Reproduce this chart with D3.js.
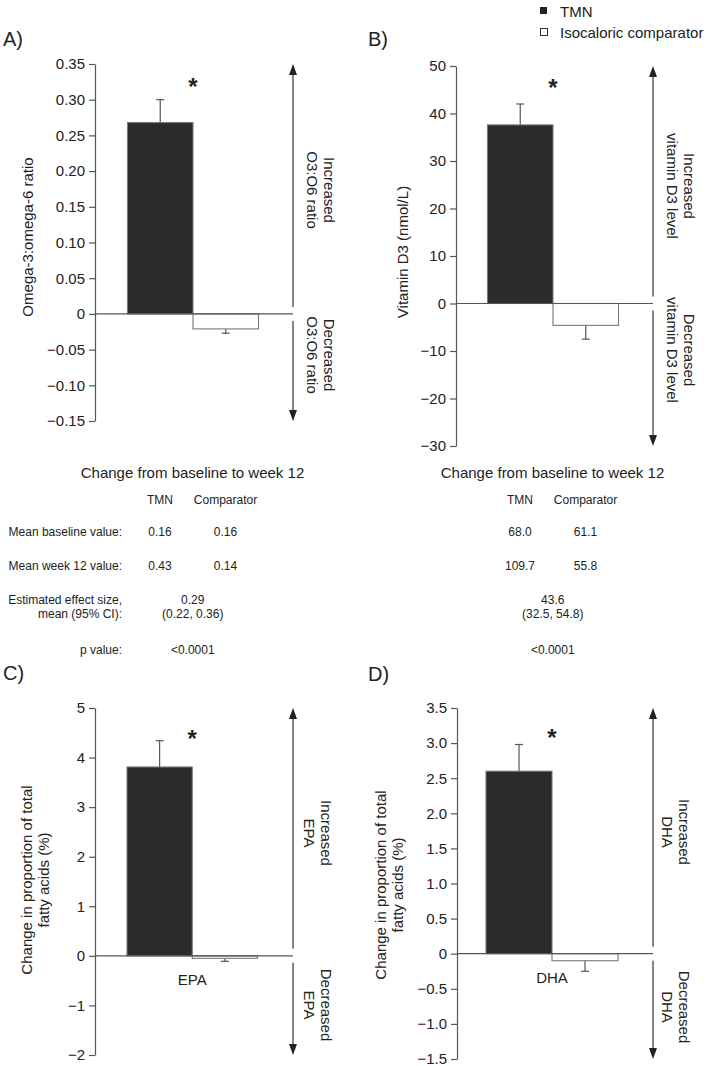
<!DOCTYPE html>
<html lang="en">
<head>
<meta charset="UTF-8">
<title>TMN vs isocaloric comparator</title>
<script src="https://d3js.org/d3.v7.min.js"></script>
<style>
body{margin:0;background:#fff;}
svg text{font-family:"Liberation Sans",Arial,Helvetica,sans-serif;fill:#222;}
</style>
</head>
<body>
<script>
// ---- data ----
var groups = ['TMN', 'Comparator'];
var panelNames = ['A)', 'B)', 'C)', 'D)'];

var tmnMean   = [0.268, 37.6, 3.81, 2.60];
var tmnUpper  = [0.300, 42.0, 4.34, 2.98];
var compMean  = [-0.021, -4.6, -0.05, -0.10];
var compLower = [-0.027, -7.5, -0.11, -0.25];
var starAt    = [0.325, 46.4, 4.48, 3.14];

var yDomains = [[-0.15, 0.35], [-30, 50], [-2, 5], [-1.5, 3.5]];

var ticksA  = [0.35, 0.30, 0.25, 0.20, 0.15, 0.10, 0.05, 0, -0.05, -0.10, -0.15];
var labelsA = ['0.35', '0.30', '0.25', '0.20', '0.15', '0.10', '0.05', '0', '\u22120.05', '\u22120.10', '\u22120.15'];
var ticksB  = [50, 40, 30, 20, 10, 0, -10, -20, -30];
var labelsB = ['50', '40', '30', '20', '10', '0', '\u221210', '\u221220', '\u221230'];
var ticksC  = [5, 4, 3, 2, 1, 0, -1, -2];
var labelsC = ['5', '4', '3', '2', '1', '0', '\u22121', '\u22122'];
var ticksD  = [3.5, 3.0, 2.5, 2.0, 1.5, 1.0, 0.5, 0, -0.5, -1.0, -1.5];
var labelsD = ['3.5', '3.0', '2.5', '2.0', '1.5', '1.0', '0.5', '0', '\u22120.5', '\u22121.0', '\u22121.5'];

var yTitles = [['Omega-3:omega-6 ratio'], ['Vitamin D3 (nmol/L)'],
    ['Change in proportion of total', 'fatty acids (%)'], ['Change in proportion of total', 'fatty acids (%)']];
var upText   = [['Increased', 'O3:O6 ratio'], ['Increased', 'vitamin D3 level'], ['Increased', 'EPA'], ['Increased', 'DHA']];
var downText = [['Decreased', 'O3:O6 ratio'], ['Decreased', 'vitamin D3 level'], ['Decreased', 'EPA'], ['Decreased', 'DHA']];
var catText  = ['', '', 'EPA', 'DHA'];

var legendText = ['TMN', 'Isocaloric comparator'];

var tableTitle = 'Change from baseline to week 12';
var tableHead  = ['TMN', 'Comparator'];
var rowLabels  = ['Mean baseline value:', 'Mean week 12 value:', 'Estimated effect size,', 'mean (95% CI):', 'p value:'];
var baselineA = ['0.16', '0.16'], week12A = ['0.43', '0.14'];
var baselineB = ['68.0', '61.1'], week12B = ['109.7', '55.8'];
var effectA = ['0.29', '(0.22, 0.36)', '<0.0001'];
var effectB = ['43.6', '(32.5, 54.8)', '<0.0001'];

// ---- layout ----
var W = 709, H = 1066;
var layout = [
    {ax: 95,  top: 64,  bot: 421,  band: [127.5, 258.5], arrow: 293, tx: 27,  ty: 237, up: [321, 190], down: [321, 355], nx: 3,   ny: 46},
    {ax: 456, top: 66,  bot: 446,  band: [487.5, 618.5], arrow: 653, tx: 402, ty: 252, up: [681, 186], down: [681, 350], nx: 368, ny: 46},
    {ax: 95,  top: 708, bot: 1055, band: [127, 257.5],   arrow: 293, tx: 35,  ty: 880, up: [318, 833], down: [318, 1005], nx: 3,   ny: 680},
    {ax: 457, top: 708, bot: 1059, band: [486, 618],     arrow: 653, tx: 389, ty: 885, up: [676, 832], down: [676, 1007], nx: 368, ny: 681}
];
var allTicks = [ticksA, ticksB, ticksC, ticksD];
var allLabels = [labelsA, labelsB, labelsC, labelsD];

var gray = '#555';

var svg = d3.select('body').append('svg')
    .attr('width', W).attr('height', H);
svg.append('rect').attr('width', W).attr('height', H).attr('fill', '#fff');

function rotText(g, cx, cy, angle, lines, size) {
    // lines stacked perpendicular to reading direction, centred on (cx,cy)
    var gap = 17;
    var t = g.append('g').attr('transform', 'translate(' + cx + ',' + cy + ') rotate(' + angle + ')');
    lines.forEach(function (s, i) {
        t.append('text')
            .attr('x', 0)
            .attr('y', (i - (lines.length - 1) / 2) * gap)
            .attr('text-anchor', 'middle')
            .attr('dominant-baseline', 'central')
            .attr('font-size', size)
            .text(s);
    });
}

function arrowHead(g, x, y, dir) {
    // dir -1 = up, 1 = down; (x,y) is the tip
    g.append('path')
        .attr('d', 'M' + x + ',' + y + 'L' + (x - 4) + ',' + (y - dir * 11) + 'L' + (x + 4) + ',' + (y - dir * 11) + 'Z')
        .attr('fill', '#222');
}

layout.forEach(function (p, k) {
    var g = svg.append('g');
    var y = d3.scaleLinear().domain(yDomains[k]).range([p.bot, p.top]);
    var x = d3.scaleBand().domain(groups).range(p.band).padding(0);
    var y0 = y(0);

    // panel letter
    g.append('text').attr('x', p.nx).attr('y', p.ny)
        .attr('font-size', 20).text(panelNames[k]);

    // y axis
    var axis = d3.axisLeft(y)
        .tickValues(allTicks[k])
        .tickFormat(function (d, i) { return allLabels[k][i]; })
        .tickSize(6).tickSizeOuter(0).tickPadding(4);
    var ag = g.append('g').attr('transform', 'translate(' + p.ax + ',0)').call(axis);
    ag.select('.domain').attr('stroke', gray).attr('stroke-width', 1.2);
    ag.selectAll('.tick line').attr('stroke', gray).attr('stroke-width', 1.2);
    ag.selectAll('.tick text').attr('font-size', 15).attr('fill', '#222')
        .attr('font-family', '"Liberation Sans",Arial,sans-serif');

    // y title
    rotText(g, p.tx, p.ty, -90, yTitles[k], 15);

    // bars
    var bars = [
        {grp: 'TMN', v: tmnMean[k], e: tmnUpper[k], fill: '#2b2b2b', stroke: '#777'},
        {grp: 'Comparator', v: compMean[k], e: compLower[k], fill: '#fff', stroke: '#777'}
    ];
    // error bars first so the bar covers the stem
    bars.forEach(function (b) {
        var cx = x(b.grp) + x.bandwidth() / 2;
        g.append('line').attr('x1', cx).attr('x2', cx)
            .attr('y1', y(b.v)).attr('y2', y(b.e))
            .attr('stroke', gray).attr('stroke-width', 1.2);
        g.append('line').attr('x1', cx - 4).attr('x2', cx + 4)
            .attr('y1', y(b.e)).attr('y2', y(b.e))
            .attr('stroke', gray).attr('stroke-width', 1.2);
    });
    g.selectAll('.bar').data(bars).enter().append('rect')
        .attr('x', function (d) { return x(d.grp); })
        .attr('width', x.bandwidth())
        .attr('y', function (d) { return Math.min(y(d.v), y0); })
        .attr('height', function (d) { return Math.abs(y(d.v) - y0); })
        .attr('fill', function (d) { return d.fill; })
        .attr('stroke', function (d) { return d.stroke; })
        .attr('stroke-width', 1.1);

    // zero line
    g.append('line').attr('x1', p.ax).attr('x2', p.arrow)
        .attr('y1', y0).attr('y2', y0)
        .attr('stroke', gray).attr('stroke-width', 1.2);

    // asterisk
    g.append('text')
        .attr('x', x('TMN') + x.bandwidth())
        .attr('y', y(starAt[k]) + 13)
        .attr('text-anchor', 'middle')
        .attr('font-size', 24).attr('font-weight', 'bold')
        .text('*');

    // category label
    if (catText[k]) {
        g.append('text').attr('x', x('Comparator'))
            .attr('y', y0 + 24)
            .attr('text-anchor', 'middle').attr('dominant-baseline', 'central')
            .attr('font-size', 15).text(catText[k]);
    }

    // direction arrows
    g.append('line').attr('x1', p.arrow).attr('x2', p.arrow)
        .attr('y1', y0 - 7).attr('y2', p.top + 8)
        .attr('stroke', '#333').attr('stroke-width', 1.2);
    arrowHead(g, p.arrow, p.top, -1);
    g.append('line').attr('x1', p.arrow).attr('x2', p.arrow)
        .attr('y1', y0 + 7).attr('y2', p.bot - 8)
        .attr('stroke', '#333').attr('stroke-width', 1.2);
    arrowHead(g, p.arrow, p.bot, 1);

    rotText(g, p.up[0], p.up[1], 90, upText[k], 15);
    rotText(g, p.down[0], p.down[1], 90, downText[k], 15);
});

// legend
var lg = svg.append('g');
lg.append('rect').attr('x', 540).attr('y', 7).attr('width', 7).attr('height', 7).attr('fill', '#222');
lg.append('rect').attr('x', 540.5).attr('y', 28.5).attr('width', 7).attr('height', 7)
    .attr('fill', '#fff').attr('stroke', '#333').attr('stroke-width', 1);
lg.selectAll('.lt').data(legendText).enter().append('text')
    .attr('x', 560)
    .attr('y', function (d, i) { return 11 + i * 21; })
    .attr('dominant-baseline', 'central')
    .attr('font-size', 15)
    .text(function (d) { return d; });

// summary tables
function table(cx, cols, showLabels, base, wk, eff) {
    var t = svg.append('g');
    t.append('text').attr('x', cx).attr('y', 472)
        .attr('text-anchor', 'middle').attr('dominant-baseline', 'central')
        .attr('font-size', 15).text(tableTitle);
    var rowsY = [531.5, 565.5, 600, 614, 650];
    tableHead.forEach(function (h, i) {
        t.append('text').attr('x', cols[i]).attr('y', 500)
            .attr('text-anchor', 'middle').attr('dominant-baseline', 'central')
            .attr('font-size', 12).text(h);
    });
    if (showLabels) {
        rowLabels.forEach(function (s, i) {
            t.append('text').attr('x', 122).attr('y', rowsY[i])
                .attr('text-anchor', 'end').attr('dominant-baseline', 'central')
                .attr('font-size', 12).text(s);
        });
    }
    [base, wk].forEach(function (row, r) {
        row.forEach(function (v, i) {
            t.append('text').attr('x', cols[i]).attr('y', rowsY[r])
                .attr('text-anchor', 'middle').attr('dominant-baseline', 'central')
                .attr('font-size', 12).text(v);
        });
    });
    eff.forEach(function (v, i) {
        t.append('text').attr('x', (cols[0] + cols[1]) / 2).attr('y', rowsY[i + 2])
            .attr('text-anchor', 'middle').attr('dominant-baseline', 'central')
            .attr('font-size', 12).text(v);
    });
}
table(192.5, [160, 225.5], true, baselineA, week12A, effectA);
table(552.5, [520, 585.5], false, baselineB, week12B, effectB);
</script>
</body>
</html>
